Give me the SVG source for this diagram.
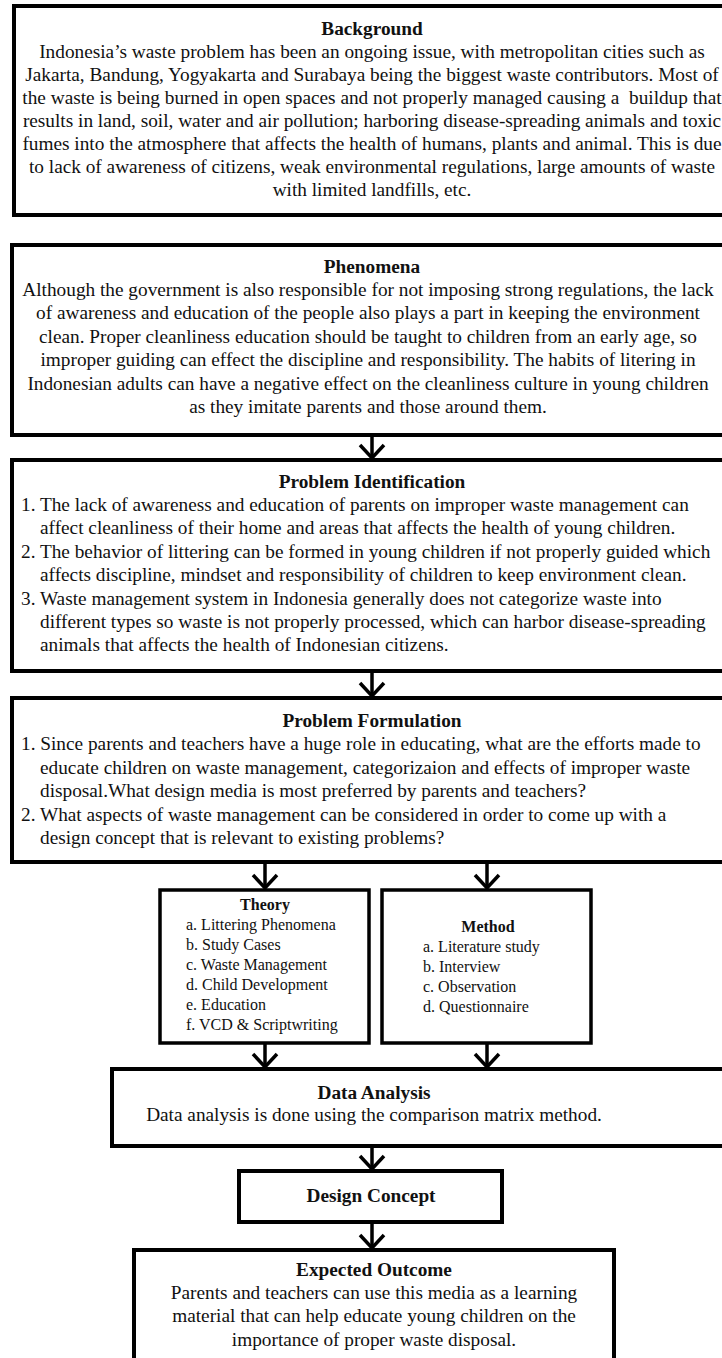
<svg xmlns="http://www.w3.org/2000/svg" width="722" height="1358" viewBox="0 0 722 1358">
<defs>
<style>
.box{fill:#fff;stroke:#000;stroke-width:4}
.sbox{fill:#fff;stroke:#000;stroke-width:3.5}
text{font-family:"Liberation Serif","Times New Roman",serif;fill:#111}
.t{font-size:19.3px}
.h{font-size:19.3px;font-weight:bold}
.s{font-size:16px}
.sh{font-size:16px;font-weight:bold}
.c{text-anchor:middle}
.conn{fill:none;stroke:#000;stroke-width:3.5}
</style>
<marker id="chev" viewBox="0 0 30 30" refX="27" refY="15" markerWidth="30" markerHeight="30" markerUnits="userSpaceOnUse" orient="auto">
<path d="M14,3 L27,15 L14,27" fill="none" stroke="#000" stroke-width="3.5"/>
</marker>
</defs>
<rect width="722" height="1358" fill="#fff"/>

<g id="connectors">
<path class="conn" d="M372,435 V458" marker-end="url(#chev)"/>
<path class="conn" d="M372,671 V696" marker-end="url(#chev)"/>
<path class="conn" d="M265,862 V888" marker-end="url(#chev)"/>
<path class="conn" d="M487,862 V888" marker-end="url(#chev)"/>
<path class="conn" d="M265,1043 V1067" marker-end="url(#chev)"/>
<path class="conn" d="M487,1043 V1067" marker-end="url(#chev)"/>
<path class="conn" d="M372,1146 V1169" marker-end="url(#chev)"/>
<path class="conn" d="M372,1222 V1248" marker-end="url(#chev)"/>
</g>

<g id="background">
<rect class="box" x="14" y="6" width="718" height="209"/>
<text class="h c" x="372" y="35">Background</text>
<text class="t c" x="372" y="58">Indonesia’s waste problem has been an ongoing issue, with metropolitan cities such as</text>
<text class="t c" x="372" y="81">Jakarta, Bandung, Yogyakarta and Surabaya being the biggest waste contributors. Most of</text>
<text class="t c" x="372" y="104">the waste is being burned in open spaces and not properly managed causing a&#160; buildup that</text>
<text class="t c" x="372" y="127">results in land, soil, water and air pollution; harboring disease-spreading animals and toxic</text>
<text class="t c" x="372" y="150">fumes into the atmosphere that affects the health of humans, plants and animal. This is due</text>
<text class="t c" x="372" y="173">to lack of awareness of citizens, weak environmental regulations, large amounts of waste</text>
<text class="t c" x="372" y="196">with limited landfills, etc.</text>
</g>

<g id="phenomena">
<rect class="box" x="12" y="245" width="720" height="190"/>
<text class="h c" x="372" y="273">Phenomena</text>
<text class="t c" x="368" y="296">Although the government is also responsible for not imposing strong regulations, the lack</text>
<text class="t c" x="368" y="319.4">of awareness and education of the people also plays a part in keeping the environment</text>
<text class="t c" x="368" y="342.8">clean. Proper cleanliness education should be taught to children from an early age, so</text>
<text class="t c" x="368" y="366.2">improper guiding can effect the discipline and responsibility. The habits of litering in</text>
<text class="t c" x="368" y="389.6">Indonesian adults can have a negative effect on the cleanliness culture in young children</text>
<text class="t c" x="368" y="413">as they imitate parents and those around them.</text>
</g>

<g id="problem-identification">
<rect class="box" x="12" y="460" width="720" height="211"/>
<text class="h c" x="372" y="488">Problem Identification</text>
<text class="t" x="21" y="511">1. The lack of awareness and education of parents on improper waste management can</text>
<text class="t" x="40" y="534.4">affect cleanliness of their home and areas that affects the health of young children.</text>
<text class="t" x="21" y="557.8">2. The behavior of littering can be formed in young children if not properly guided which</text>
<text class="t" x="40" y="581.2">affects discipline, mindset and responsibility of children to keep environment clean.</text>
<text class="t" x="21" y="604.6">3. Waste management system in Indonesia generally does not categorize waste into</text>
<text class="t" x="40" y="628">different types so waste is not properly processed, which can harbor disease-spreading</text>
<text class="t" x="40" y="651.4">animals that affects the health of Indonesian citizens.</text>
</g>

<g id="problem-formulation">
<rect class="box" x="12" y="698" width="720" height="164"/>
<text class="h c" x="372" y="727">Problem Formulation</text>
<text class="t" x="21" y="750.4">1. Since parents and teachers have a huge role in educating, what are the efforts made to</text>
<text class="t" x="40" y="773.8">educate children on waste management, categorizaion and effects of improper waste</text>
<text class="t" x="40" y="797.2">disposal.What design media is most preferred by parents and teachers?</text>
<text class="t" x="21" y="820.6">2. What aspects of waste management can be considered in order to come up with a</text>
<text class="t" x="40" y="844">design concept that is relevant to existing problems?</text>
</g>

<g id="theory">
<rect class="sbox" x="160" y="890" width="209" height="153"/>
<text class="sh c" x="265" y="910">Theory</text>
<text class="s" x="186" y="930">a. Littering Phenomena</text>
<text class="s" x="186" y="950">b. Study Cases</text>
<text class="s" x="186" y="970">c. Waste Management</text>
<text class="s" x="186" y="990">d. Child Development</text>
<text class="s" x="186" y="1010">e. Education</text>
<text class="s" x="186" y="1030">f. VCD &amp; Scriptwriting</text>
</g>

<g id="method">
<rect class="sbox" x="382" y="890" width="209" height="153"/>
<text class="sh c" x="488" y="932">Method</text>
<text class="s" x="423" y="952">a. Literature study</text>
<text class="s" x="423" y="972">b. Interview</text>
<text class="s" x="423" y="992">c. Observation</text>
<text class="s" x="423" y="1012">d. Questionnaire</text>
</g>

<g id="data-analysis">
<rect class="box" x="112" y="1069" width="640" height="77"/>
<text class="h c" x="374" y="1099">Data Analysis</text>
<text class="t c" x="374" y="1121">Data analysis is done using the comparison matrix method.</text>
</g>

<g id="design-concept">
<rect class="box" x="239" y="1171" width="263" height="51"/>
<text class="h c" x="371" y="1202">Design Concept</text>
</g>

<g id="expected-outcome">
<rect class="box" x="134" y="1250" width="480" height="130"/>
<text class="h c" x="374" y="1276">Expected Outcome</text>
<text class="t c" x="374" y="1299">Parents and teachers can use this media as a learning</text>
<text class="t c" x="374" y="1322">material that can help educate young children on the</text>
<text class="t c" x="374" y="1346">importance of proper waste disposal.</text>
</g>
</svg>
